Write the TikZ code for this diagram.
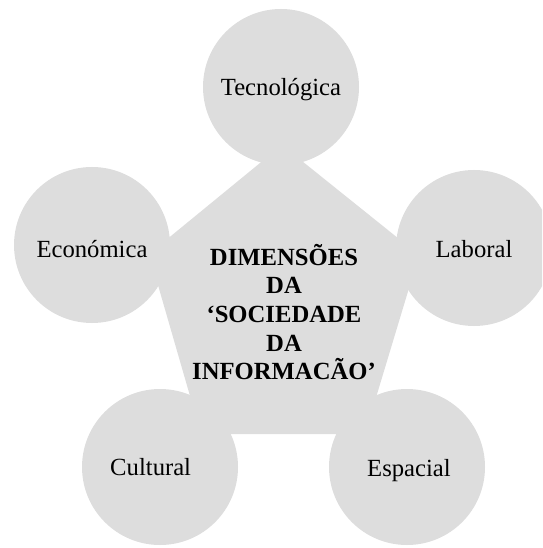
\documentclass[tikz,border=0pt]{standalone}
\usepackage{fontspec}
\setmainfont{Liberation Serif}
\definecolor{dimgray}{RGB}{221,221,221}
\tikzset{
  dimcircle/.style={circle,fill=dimgray,minimum size=117pt,inner sep=0pt},
  dimlabel/.style={font=\fontsize{18.5}{21.4}\selectfont},
}
\begin{document}
\begin{tikzpicture}[x=0.75pt,y=-0.75pt]
	\useasboundingbox (0,0) rectangle (542,548);
	\clip (0,0) rectangle (542,548);
	% pentagon corners
	\coordinate (p1) at (282,145);
	\coordinate (p2) at (419,255);
	\coordinate (p3) at (365,434);
	\coordinate (p4) at (201,434);
	\coordinate (p5) at (149,254);
	\fill[dimgray] (p1)--(p2)--(p3)--(p4)--(p5)--cycle;
	% the five circles
	\node[dimcircle] (tec) at (281,87) {};
	\node[dimcircle] (eco) at (92,245) {};
	\node[dimcircle] (lab) at (474,248) {};
	\node[dimcircle] (cul) at (160,467) {};
	\node[dimcircle] (esp) at (407,467) {};
	\node[dimlabel] (teclabel) at ([yshift=-2pt]tec) {Tecnológica};
	\node[dimlabel] (ecolabel) at ([yshift=-3pt]eco) {Económica};
	\node[dimlabel] (lablabel) at ([yshift=-1pt]lab) {Laboral};
	\node[dimlabel] (cullabel) at ([xshift=-7pt]cul) {Cultural};
	\node[dimlabel] (esplabel) at ([xshift=1.5pt,yshift=-2.5pt]esp) {Espacial};
	\node[dimlabel,font=\fontsize{18.5}{21.4}\selectfont\bfseries,align=center] (centre) at (284,312)
		{DIMENSÕES\\DA\\‘SOCIEDADE\\DA\\INFORMACÃO’};
\end{tikzpicture}
\end{document}
